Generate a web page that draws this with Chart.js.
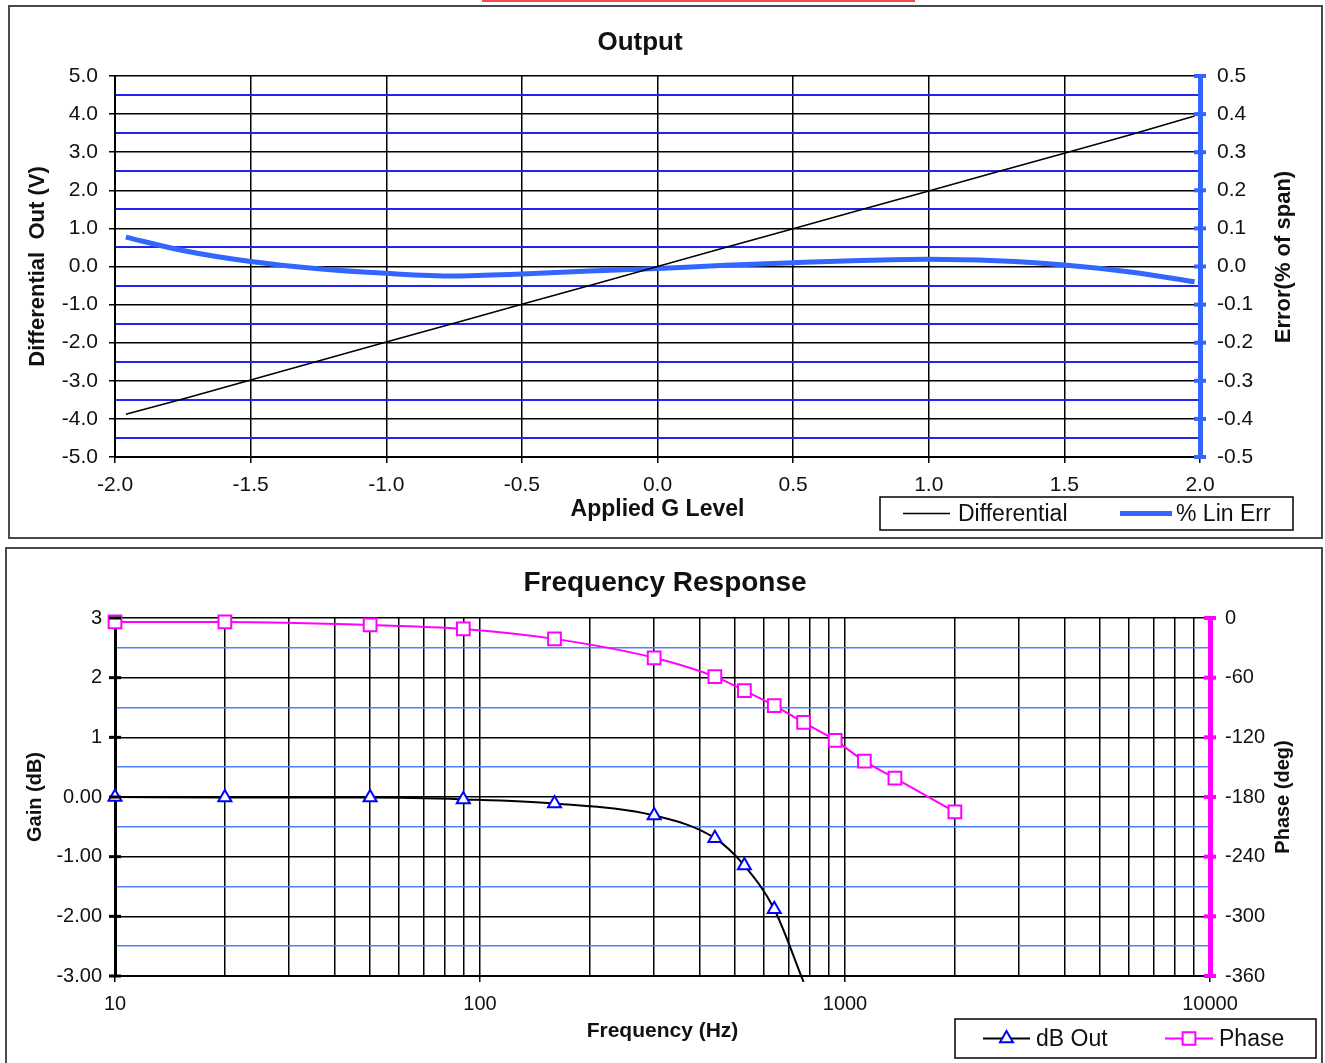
<!DOCTYPE html>
<html>
<head>
<meta charset="utf-8">
<title>Output / Frequency Response</title>
<script src="https://cdn.jsdelivr.net/npm/chart.js@4.4.1/dist/chart.umd.min.js"></script>
<style>
  html, body { margin: 0; padding: 0; background: #fff; }
  body { width: 1325px; height: 1063px; position: relative; overflow: hidden; }
  .redline { position: absolute; left: 482px; top: 0; width: 433px; height: 2px; background: #f24a4a; }
  .frame { position: absolute; border: 2px solid #4a4a4a; background: #fff; box-sizing: border-box; }
  #frameTop { left: 8px; top: 5px; width: 1315px; height: 534px; }
  #frameBot { left: 5px; top: 547px; width: 1318px; height: 530px; }
  .frame canvas { position: absolute; left: 0; top: 0; }
</style>
</head>
<body>
<div class="redline"></div>
<div class="frame" id="frameTop"><canvas id="outChart" width="1311" height="530"></canvas></div>
<div class="frame" id="frameBot"><canvas id="freqChart" width="1314" height="514"></canvas></div>
<script>
(function() {
    'use strict';

    const FONT = "'Liberation Sans', Arial, Helvetica, sans-serif";
    Chart.defaults.font.family = FONT;
    Chart.defaults.color = '#111';

    // --- Output chart (applied G vs differential out / linearity error) ---
    const gLevels  = [-1.96, -1.75, -1.5, -1.25, -1.0, -0.75, -0.5, -0.25, 0, 0.25, 0.5, 0.75, 1.0, 1.25, 1.5, 1.75, 1.98];
    const diffOut  = [-3.88, -3.48, -2.98, -2.48, -1.98, -1.49, -0.99, -0.5, 0, 0.5, 0.99, 1.49, 1.98, 2.48, 2.97, 3.47, 3.95];
    const linErr   = [0.077, 0.042, 0.013, -0.006, -0.018, -0.025, -0.020, -0.012, -0.005, 0.003, 0.010, 0.016, 0.019, 0.015, 0.004, -0.015, -0.040];

    // --- Frequency response ---
    const freqHz   = [10, 20, 50, 90, 160, 300, 440, 530, 640, 770, 940, 1130, 1370, 2000];
    const gainDb   = [0, -0.01, -0.01, -0.04, -0.11, -0.31, -0.69, -1.15, -1.88, -3.1];
    const phaseDeg = [-4, -4, -7, -11, -21, -40, -59, -73, -88, -105, -123, -144, -161, -195];
    const gainTicks      = [3, 2, 1, 0, -1, -2, -3];
    const gainTickLabels = ['3', '2', '1', '0.00', '-1.00', '-2.00', '-3.00'];
    const freqDecades    = [10, 100, 1000, 10000];

    const BLACK = '#000';
    const GRID_BLUE = '#2424f0';
    const ERR_BLUE = '#3366ff';
    const LIGHT_BLUE = '#4f80ff';
    const MAGENTA = '#ff00ff';

    const isWhole = v => Math.abs(v - Math.round(v)) < 1e-6;
    const pts = (xs, ys) => ys.map((y, i) => ({ x: xs[i], y: y }));

    // log grid: 1..9 in every decade
    const freqGrid = [];
    freqDecades.slice(0, -1).forEach(d => {
        for (let k = 1; k < 10; k++) freqGrid.push(d * k);
    });
    freqGrid.push(freqDecades[freqDecades.length - 1]);

    function drawLegend(chart, lg) {
        const ctx = chart.ctx;
        ctx.save();
        ctx.fillStyle = '#fff';
        ctx.fillRect(lg.x, lg.y, lg.w, lg.h);
        ctx.strokeStyle = BLACK;
        ctx.lineWidth = 1.5;
        ctx.strokeRect(lg.x, lg.y, lg.w, lg.h);
        const cy = lg.y + lg.h / 2;
        ctx.font = lg.size + 'px ' + FONT;
        ctx.textBaseline = 'middle';
        ctx.textAlign = 'left';
        lg.items.forEach(it => {
            const ds = chart.data.datasets[it.ds];
            ctx.strokeStyle = ds.borderColor;
            ctx.lineWidth = ds.borderWidth;
            ctx.beginPath();
            ctx.moveTo(it.x, cy);
            ctx.lineTo(it.x + it.len, cy);
            ctx.stroke();
            if (it.marker) {
                ctx.fillStyle = '#fff';
                ctx.strokeStyle = ds.pointBorderColor;
                ctx.lineWidth = ds.pointBorderWidth;
                Chart.helpers.drawPoint(ctx, { pointStyle: ds.pointStyle, radius: it.marker, borderWidth: ds.pointBorderWidth, rotation: 0 }, it.x + it.len / 2, cy);
            }
            ctx.fillStyle = '#111';
            ctx.fillText(ds.label, it.textX, cy + 1);
        });
        ctx.restore();
    }

    // tick marks that cross the axis line (Excel "cross" ticks)
    function drawCrossTicks(chart, list) {
        const ctx = chart.ctx;
        const area = chart.chartArea;
        list.forEach(ct => {
            const sc = chart.scales[ct.id];
            const x = sc.position === 'left' ? area.left : area.right;
            ctx.save();
            ctx.strokeStyle = ct.color;
            ctx.lineWidth = ct.width;
            sc.ticks.forEach(t => {
                if (ct.wholeOnly && !isWhole(t.value)) return;
                const y = sc.getPixelForValue(t.value);
                ctx.beginPath();
                ctx.moveTo(x - ct.len, y);
                ctx.lineTo(x + ct.len, y);
                ctx.stroke();
            });
            ctx.restore();
        });
    }

    function decorPlugin(cfg) {
        return {
            id: 'decor',
            afterDraw(chart) {
                const ctx = chart.ctx;
                drawCrossTicks(chart, cfg.crossTicks || []);
                ctx.save();
                ctx.fillStyle = '#111';
                ctx.textAlign = 'center';
                ctx.textBaseline = 'middle';
                ctx.font = 'bold ' + cfg.titleSize + 'px ' + FONT;
                ctx.fillText(cfg.title, cfg.titleX, cfg.titleY);
                // right axis title reads bottom-to-top, like the left one
                ctx.font = 'bold ' + cfg.rightSize + 'px ' + FONT;
                ctx.translate(cfg.rightX, cfg.rightY);
                ctx.rotate(-Math.PI / 2);
                ctx.fillText(cfg.rightTitle, 0, 0);
                ctx.restore();
                drawLegend(chart, cfg.legend);
            }
        };
    }

    // ---------- Output ----------
    new Chart(document.getElementById('outChart'), {
        type: 'line',
        data: {
            datasets: [{
                label: 'Differential',
                data: pts(gLevels, diffOut),
                yAxisID: 'y',
                borderColor: BLACK,
                borderWidth: 1.5,
                pointRadius: 0,
                tension: 0
            }, {
                label: '% Lin Err',
                data: pts(gLevels, linErr),
                yAxisID: 'yErr',
                borderColor: ERR_BLUE,
                borderWidth: 5,
                pointRadius: 0,
                cubicInterpolationMode: 'monotone'
            }]
        },
        options: {
            responsive: false,
            animation: false,
            layout: { padding: { top: 69, left: 0, right: 0, bottom: 0 } },
            plugins: { legend: { display: false }, tooltip: { enabled: false } },
            scales: {
                x: {
                    type: 'linear', min: -2, max: 2,
                    ticks: { stepSize: 0.5, maxRotation: 0, padding: 10, font: { size: 21 }, callback: v => v.toFixed(1) },
                    grid: { color: BLACK, lineWidth: 1.5, tickLength: 6 },
                    border: { color: BLACK, width: 2 },
                    title: { display: true, text: 'Applied G Level', font: { size: 23, weight: 'bold' }, padding: { top: 0, bottom: 14 } },
                    afterFit: s => { s.height = 80; }
                },
                y: {
                    position: 'left', min: -5, max: 5,
                    ticks: { stepSize: 0.5, autoSkip: false, padding: 11, font: { size: 21 }, callback: v => isWhole(v) ? v.toFixed(1) : '' },
                    grid: {
                        color: c => isWhole(c.tick.value) ? BLACK : GRID_BLUE,
                        lineWidth: c => isWhole(c.tick.value) ? 1.5 : 2,
                        tickColor: c => isWhole(c.tick.value) ? BLACK : 'transparent',
                        tickLength: 6
                    },
                    border: { color: BLACK, width: 2 },
                    title: { display: true, text: 'Differential  Out (V)', font: { size: 22, weight: 'bold' }, padding: { top: 15, bottom: 0 } },
                    afterFit: s => { s.width = 105; }
                },
                yErr: {
                    position: 'right', min: -0.5, max: 0.5,
                    ticks: { stepSize: 0.1, autoSkip: false, padding: 11, font: { size: 21 }, callback: v => v.toFixed(1) },
                    grid: { drawOnChartArea: false, tickColor: 'transparent', tickLength: 6 },
                    border: { color: ERR_BLUE, width: 5 },
                    afterFit: s => { s.width = 121; }
                }
            }
        },
        plugins: [decorPlugin({
            title: 'Output', titleSize: 26, titleX: 630, titleY: 36,
            rightTitle: 'Error(% of span)', rightSize: 22, rightX: 1274, rightY: 250,
            crossTicks: [{ id: 'yErr', color: ERR_BLUE, width: 4, len: 6 }],
            legend: {
                x: 870, y: 490, w: 413, h: 33, size: 23,
                items: [
                    { ds: 0, x: 893, len: 47, textX: 948 },
                    { ds: 1, x: 1110, len: 52, textX: 1166 }
                ]
            }
        })]
    });

    // ---------- Frequency Response ----------
    new Chart(document.getElementById('freqChart'), {
        type: 'line',
        data: {
            datasets: [{
                label: 'dB Out',
                data: pts(freqHz, gainDb),
                yAxisID: 'yGain',
                borderColor: BLACK,
                borderWidth: 2,
                pointStyle: 'triangle',
                pointRadius: c => (c.raw && c.raw.y < -3) ? 0 : 7.5,
                pointBorderColor: '#0000ff',
                pointBackgroundColor: '#fff',
                pointBorderWidth: 2,
                cubicInterpolationMode: 'monotone',
                clip: { left: 12, top: 12, right: 12, bottom: 6 }
            }, {
                label: 'Phase',
                data: pts(freqHz, phaseDeg),
                yAxisID: 'yPhase',
                borderColor: MAGENTA,
                borderWidth: 2,
                pointStyle: 'rect',
                pointRadius: 9,
                pointBorderColor: MAGENTA,
                pointBackgroundColor: '#fff',
                pointBorderWidth: 2,
                cubicInterpolationMode: 'monotone',
                clip: false
            }]
        },
        options: {
            responsive: false,
            animation: false,
            layout: { padding: { top: 69, left: 0, right: 0, bottom: 0 } },
            plugins: { legend: { display: false }, tooltip: { enabled: false } },
            scales: {
                x: {
                    type: 'logarithmic', min: 10, max: 10000,
                    afterBuildTicks: s => { s.ticks = freqGrid.map(v => ({ value: v, major: freqDecades.includes(v) })); },
                    ticks: { autoSkip: false, maxRotation: 0, padding: 10, font: { size: 20 }, callback: v => freqDecades.includes(v) ? String(v) : '' },
                    grid: {
                        color: BLACK, lineWidth: 1.5, tickLength: 6,
                        tickColor: c => freqDecades.includes(c.tick.value) ? BLACK : 'transparent'
                    },
                    border: { color: BLACK, width: 2 },
                    title: { display: true, text: 'Frequency (Hz)', font: { size: 21, weight: 'bold' }, padding: { top: 0, bottom: 19 } },
                    afterFit: s => { s.height = 87; }
                },
                yGain: {
                    position: 'left', min: -3, max: 3,
                    ticks: {
                        stepSize: 0.5, autoSkip: false, padding: 7, font: { size: 20 },
                        callback: v => { const i = gainTicks.indexOf(v); return i >= 0 ? gainTickLabels[i] : ''; }
                    },
                    grid: {
                        color: c => isWhole(c.tick.value) ? BLACK : LIGHT_BLUE,
                        lineWidth: 1.5,
                        tickColor: 'transparent',
                        tickLength: 6
                    },
                    border: { color: BLACK, width: 3 },
                    title: { display: true, text: 'Gain (dB)', font: { size: 20, weight: 'bold' }, padding: { top: 16, bottom: 0 } },
                    afterFit: s => { s.width = 108; }
                },
                yPhase: {
                    position: 'right', min: -360, max: 0,
                    ticks: { stepSize: 60, autoSkip: false, padding: 9, font: { size: 20 } },
                    grid: { drawOnChartArea: false, tickColor: 'transparent', tickLength: 6 },
                    border: { color: MAGENTA, width: 5 },
                    afterFit: s => { s.width = 111; }
                }
            }
        },
        plugins: [decorPlugin({
            title: 'Frequency Response', titleSize: 28, titleX: 658, titleY: 34,
            rightTitle: 'Phase (deg)', rightSize: 20, rightX: 1276, rightY: 248,
            crossTicks: [
                { id: 'yGain', color: BLACK, width: 3, len: 6, wholeOnly: true },
                { id: 'yPhase', color: MAGENTA, width: 4, len: 6 }
            ],
            legend: {
                x: 948, y: 470, w: 361, h: 39, size: 23,
                items: [
                    { ds: 0, x: 976, len: 47, textX: 1029, marker: 7.5 },
                    { ds: 1, x: 1158, len: 48, textX: 1212, marker: 9 }
                ]
            }
        })]
    });
})();
</script>
</body>
</html>
